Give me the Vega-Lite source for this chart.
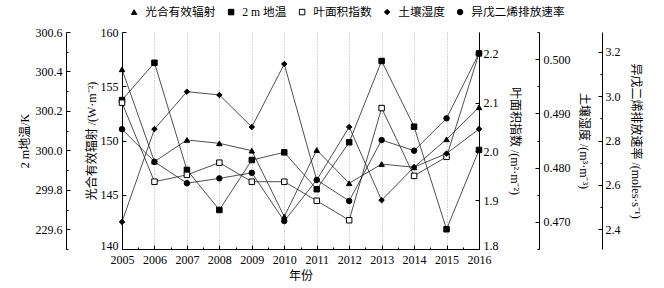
{
  "$schema": "https://vega.github.io/schema/vega-lite/v6.json",
  "width": 357,
  "height": 217,
  "autosize": {"type": "none"},
  "padding": {"left": 122, "top": 32, "right": 185, "bottom": 39},
  "background": "white",
  "config": {
    "font": "Liberation Serif, Noto Sans CJK SC",
    "view": {"stroke": null},
    "axis": {
      "labelFont": "Liberation Serif, Noto Sans CJK SC",
      "titleFont": "Liberation Serif, Noto Sans CJK SC",
      "labelFontSize": 12,
      "titleFontSize": 12,
      "titleFontWeight": "normal",
      "labelColor": "black",
      "titleColor": "black",
      "domainColor": "black",
      "tickColor": "black",
      "domainWidth": 1,
      "tickWidth": 1,
      "grid": false,
      "labelOverlap": false,
      "labelFlush": false
    },
    "legend": {
      "labelFont": "Liberation Serif, Noto Sans CJK SC",
      "labelFontSize": 11.7,
      "labelColor": "black"
    }
  },
  "data": {
    "values": [
      {"year": 2005, "s": "光合有效辐射", "v": 156.56},
      {"year": 2006, "s": "光合有效辐射", "v": 148.05},
      {"year": 2007, "s": "光合有效辐射", "v": 150.05},
      {"year": 2008, "s": "光合有效辐射", "v": 149.74},
      {"year": 2009, "s": "光合有效辐射", "v": 149.06},
      {"year": 2010, "s": "光合有效辐射", "v": 142.98},
      {"year": 2011, "s": "光合有效辐射", "v": 149.12},
      {"year": 2012, "s": "光合有效辐射", "v": 146.06},
      {"year": 2013, "s": "光合有效辐射", "v": 147.83},
      {"year": 2014, "s": "光合有效辐射", "v": 147.53},
      {"year": 2015, "s": "光合有效辐射", "v": 150.11},
      {"year": 2016, "s": "光合有效辐射", "v": 153.06},
      {"year": 2005, "s": "2 m 地温", "v": 300.255},
      {"year": 2006, "s": "2 m 地温", "v": 300.444},
      {"year": 2007, "s": "2 m 地温", "v": 299.901},
      {"year": 2008, "s": "2 m 地温", "v": 299.698},
      {"year": 2009, "s": "2 m 地温", "v": 299.951},
      {"year": 2010, "s": "2 m 地温", "v": 299.99},
      {"year": 2011, "s": "2 m 地温", "v": 299.803},
      {"year": 2012, "s": "2 m 地温", "v": 300.041},
      {"year": 2013, "s": "2 m 地温", "v": 300.453},
      {"year": 2014, "s": "2 m 地温", "v": 300.12},
      {"year": 2015, "s": "2 m 地温", "v": 299.6},
      {"year": 2016, "s": "2 m 地温", "v": 300.002},
      {"year": 2005, "s": "叶面积指数", "v": 2.1},
      {"year": 2006, "s": "叶面积指数", "v": 1.938},
      {"year": 2007, "s": "叶面积指数", "v": 1.952},
      {"year": 2008, "s": "叶面积指数", "v": 1.977},
      {"year": 2009, "s": "叶面积指数", "v": 1.938},
      {"year": 2010, "s": "叶面积指数", "v": 1.938},
      {"year": 2011, "s": "叶面积指数", "v": 1.899},
      {"year": 2012, "s": "叶面积指数", "v": 1.859},
      {"year": 2013, "s": "叶面积指数", "v": 2.089},
      {"year": 2014, "s": "叶面积指数", "v": 1.95},
      {"year": 2015, "s": "叶面积指数", "v": 1.989},
      {"year": 2016, "s": "叶面积指数", "v": 2.201},
      {"year": 2005, "s": "土壤湿度", "v": 0.47},
      {"year": 2006, "s": "土壤湿度", "v": 0.4871},
      {"year": 2007, "s": "土壤湿度", "v": 0.494},
      {"year": 2008, "s": "土壤湿度", "v": 0.4934},
      {"year": 2009, "s": "土壤湿度", "v": 0.4875},
      {"year": 2010, "s": "土壤湿度", "v": 0.4991},
      {"year": 2011, "s": "土壤湿度", "v": 0.4777},
      {"year": 2012, "s": "土壤湿度", "v": 0.4875},
      {"year": 2013, "s": "土壤湿度", "v": 0.474},
      {"year": 2014, "s": "土壤湿度", "v": 0.4801},
      {"year": 2015, "s": "土壤湿度", "v": 0.4826},
      {"year": 2016, "s": "土壤湿度", "v": 0.4871},
      {"year": 2005, "s": "异戊二烯排放速率", "v": 2.851},
      {"year": 2006, "s": "异戊二烯排放速率", "v": 2.704},
      {"year": 2007, "s": "异戊二烯排放速率", "v": 2.607},
      {"year": 2008, "s": "异戊二烯排放速率", "v": 2.629},
      {"year": 2009, "s": "异戊二烯排放速率", "v": 2.654},
      {"year": 2010, "s": "异戊二烯排放速率", "v": 2.436},
      {"year": 2011, "s": "异戊二烯排放速率", "v": 2.622},
      {"year": 2012, "s": "异戊二烯排放速率", "v": 2.527},
      {"year": 2013, "s": "异戊二烯排放速率", "v": 2.802},
      {"year": 2014, "s": "异戊二烯排放速率", "v": 2.754},
      {"year": 2015, "s": "异戊二烯排放速率", "v": 2.9},
      {"year": 2016, "s": "异戊二烯排放速率", "v": 3.194}
    ]
  },
  "encoding": {
    "x": {
      "field": "year",
      "type": "quantitative",
      "scale": {"domain": [2005, 2016], "nice": false, "zero": false},
      "axis": {
        "values": [2005, 2005.5, 2006, 2006.5, 2007, 2007.5, 2008, 2008.5, 2009, 2009.5, 2010, 2010.5, 2011, 2011.5, 2012, 2012.5, 2013, 2013.5, 2014, 2014.5, 2015, 2015.5, 2016],
        "labelExpr": "datum.value % 1 === 0 ? format(datum.value, 'd') : ''",
        "tickSize": {"condition": {"test": "datum.value % 1 === 0", "value": -4}, "value": -2},
        "grid": true,
        "gridDash": [1, 2],
        "gridColor": "#888888",
        "gridWidth": 0.7,
        "gridOpacity": {"condition": {"test": "datum.value % 1 === 0", "value": 1}, "value": 0},
        "labelPadding": 9,
        "title": "年份",
        "titlePadding": 3
      }
    }
  },
  "layer": [
    {
      "transform": [{"filter": "datum.s === '光合有效辐射'"}],
      "encoding": {
        "y": {
          "field": "v", "type": "quantitative",
          "scale": {"domain": [140, 160], "nice": false, "zero": false},
          "axis": {"orient": "left", "offset": 0, "values": [140, 145, 150, 155, 160], "tickSize": -4, "labelPadding": 8,
            "labelBaseline": {"condition": {"test": "datum.value === 140", "value": "alphabetic"}, "value": "middle"},
            "title": "光合有效辐射 /(W·m⁻²)", "titlePadding": 2}
        }
      },
      "layer": [
        {"mark": {"type": "line", "stroke": "#222222", "strokeWidth": 0.8}},
        {"mark": {"type": "point", "stroke": "black", "strokeWidth": 1, "size": 30, "opacity": 1},
         "encoding": {
           "shape": {"field": "s", "type": "nominal", "scale": {"domain": ["光合有效辐射", "2 m 地温", "叶面积指数", "土壤湿度", "异戊二烯排放速率"], "range": ["triangle-up", "square", "square", "diamond", "circle"]},
             "legend": {"orient": "none", "legendX": 6.25, "legendY": -26, "direction": "horizontal", "title": null, "symbolSize": 30, "symbolStrokeColor": "black", "symbolFillColor": "black", "symbolStrokeWidth": 1, "columnPadding": 9, "labelOffset": 5.25,
               "encode": {"symbols": {"update": {
                 "stroke": {"value": "black"},
                 "strokeWidth": {"value": 1},
                 "fill": {"signal": "datum.value === '叶面积指数' ? 'white' : 'black'"}
               }}}}},
           "fill": {"field": "s", "type": "nominal", "scale": {"domain": ["光合有效辐射", "2 m 地温", "叶面积指数", "土壤湿度", "异戊二烯排放速率"], "range": ["black", "black", "white", "black", "black"]}, "legend": null}
         }}
      ]
    },
    {
      "transform": [{"filter": "datum.s === '2 m 地温'"}],
      "encoding": {
        "y": {
          "field": "v", "type": "quantitative",
          "scale": {"domain": [299.5, 300.6], "nice": false, "zero": false},
          "axis": {"orient": "left", "offset": 56,
            "values": [299.5, 299.6, 299.7, 299.8, 299.9, 300.0, 300.1, 300.2, 300.3, 300.4, 300.5, 300.6],
            "labelExpr": "round(datum.value * 10) % 2 === 0 ? (round(datum.value * 10) === 2996 ? '229.6' : format(datum.value, '.1f')) : ''",
            "tickSize": {"condition": {"test": "round(datum.value * 10) % 2 === 0", "value": -4}, "value": -2},
            "labelPadding": 8, "title": "2 m地温/K", "titlePadding": 4}
        }
      },
      "layer": [
        {"mark": {"type": "line", "stroke": "#222222", "strokeWidth": 0.8}},
        {"mark": {"type": "point", "stroke": "black", "strokeWidth": 1, "size": 30, "opacity": 1},
         "encoding": {
           "shape": {"field": "s", "type": "nominal"},
           "fill": {"field": "s", "type": "nominal", "legend": null}
         }}
      ]
    },
    {
      "transform": [{"filter": "datum.s === '叶面积指数'"}],
      "encoding": {
        "y": {
          "field": "v", "type": "quantitative",
          "scale": {"domain": [1.8, 2.245], "nice": false, "zero": false},
          "axis": {"orient": "right", "offset": 0, "values": [1.8, 1.9, 2.0, 2.1, 2.2], "format": ".1f", "tickSize": -4, "labelPadding": 8,
            "labelBaseline": {"condition": {"test": "datum.value < 1.85", "value": "alphabetic"}, "value": "middle"},
            "title": "叶面积指数 /(m²·m⁻²)", "titlePadding": 9}
        }
      },
      "layer": [
        {"mark": {"type": "line", "stroke": "#222222", "strokeWidth": 0.8}},
        {"mark": {"type": "point", "stroke": "black", "strokeWidth": 1, "size": 30, "opacity": 1},
         "encoding": {
           "shape": {"field": "s", "type": "nominal"},
           "fill": {"field": "s", "type": "nominal", "legend": null}
         }}
      ]
    },
    {
      "transform": [{"filter": "datum.s === '土壤湿度'"}],
      "encoding": {
        "y": {
          "field": "v", "type": "quantitative",
          "scale": {"domain": [0.465, 0.505], "nice": false, "zero": false},
          "axis": {"orient": "right", "offset": 60,
            "values": [0.465, 0.47, 0.475, 0.48, 0.485, 0.49, 0.495, 0.5, 0.505],
            "labelExpr": "round(datum.value * 1000) % 10 === 0 ? format(datum.value, '.3f') : ''",
            "tickSize": {"condition": {"test": "round(datum.value * 1000) % 10 === 0", "value": -4}, "value": -2},
            "labelPadding": 8, "title": "土壤湿度 /(m³·m⁻³)", "titlePadding": 6}
        }
      },
      "layer": [
        {"mark": {"type": "line", "stroke": "#222222", "strokeWidth": 0.8}},
        {"mark": {"type": "point", "stroke": "black", "strokeWidth": 1, "size": 30, "opacity": 1},
         "encoding": {
           "shape": {"field": "s", "type": "nominal"},
           "fill": {"field": "s", "type": "nominal", "legend": null}
         }}
      ]
    },
    {
      "transform": [{"filter": "datum.s === '异戊二烯排放速率'"}],
      "encoding": {
        "y": {
          "field": "v", "type": "quantitative",
          "scale": {"domain": [2.31, 3.29], "nice": false, "zero": false},
          "axis": {"orient": "right", "offset": 123,
            "values": [2.4, 2.5, 2.6, 2.7, 2.8, 2.9, 3.0, 3.1, 3.2],
            "labelExpr": "round(datum.value * 10) % 2 === 0 ? format(datum.value, '.1f') : ''",
            "tickSize": {"condition": {"test": "round(datum.value * 10) % 2 === 0", "value": -4}, "value": -2},
            "labelPadding": 7, "title": "异戊二烯排放速率 /(moles·s⁻¹)", "titlePadding": 8}
        }
      },
      "layer": [
        {"mark": {"type": "line", "stroke": "#222222", "strokeWidth": 0.8}},
        {"mark": {"type": "point", "stroke": "black", "strokeWidth": 1, "size": 30, "opacity": 1},
         "encoding": {
           "shape": {"field": "s", "type": "nominal"},
           "fill": {"field": "s", "type": "nominal", "legend": null}
         }}
      ]
    }
  ],
  "resolve": {"scale": {"y": "independent"}}
}
